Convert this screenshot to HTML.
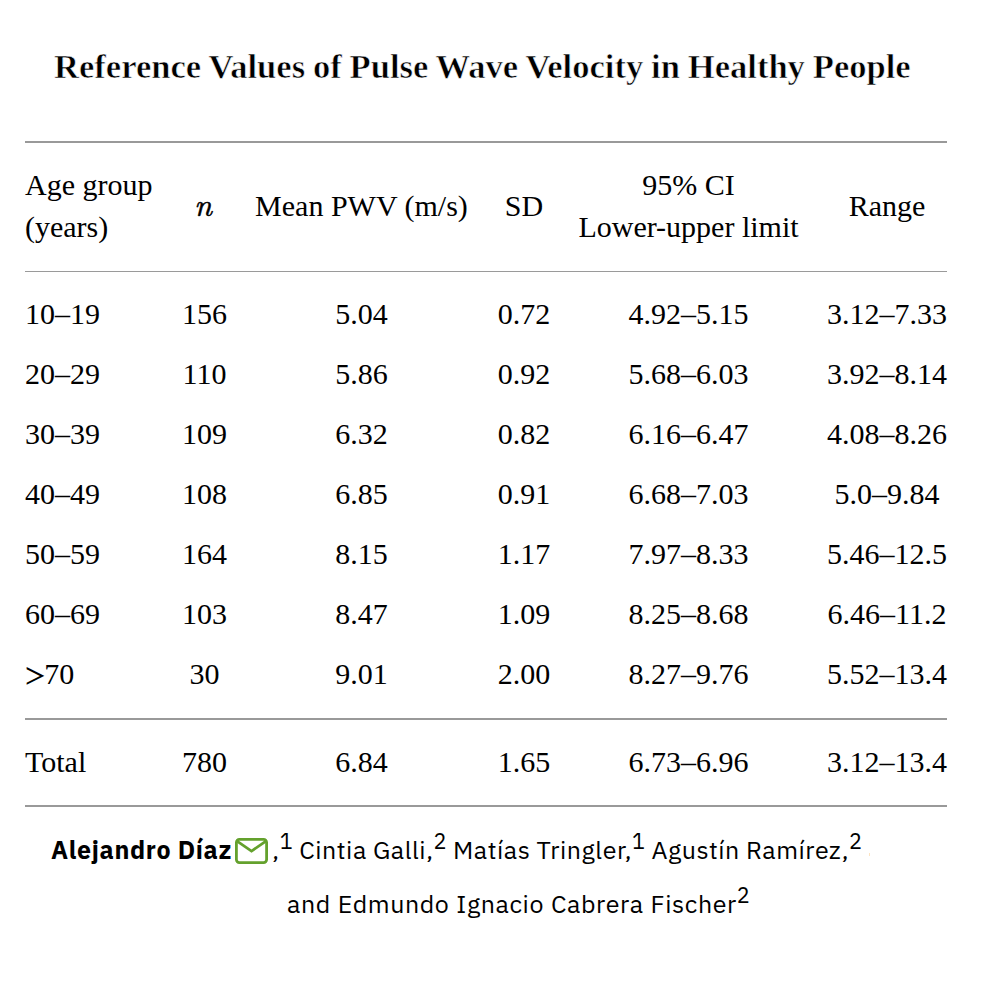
<!DOCTYPE html>
<html lang="en">
<head>
<meta charset="utf-8">
<title>Reference Values of Pulse Wave Velocity in Healthy People</title>
<style>
html,body{margin:0;padding:0;background:#fff;}
body{width:984px;height:984px;overflow:hidden;position:relative;color:#000;}
h1{position:absolute;left:54px;top:46px;margin:0;font:bold 34.6px/40px "Liberation Serif","Times New Roman",serif;letter-spacing:0px;word-spacing:-0.8px;-webkit-text-stroke:0.6px #fff;white-space:nowrap;}
table{position:absolute;left:25px;top:141px;width:922px;border-collapse:collapse;table-layout:fixed;
  font:30px/42px "Liberation Serif","Times New Roman",serif;}
td,th{padding:9px 0;text-align:center;vertical-align:middle;font-weight:normal;white-space:nowrap;}
td:first-child,th:first-child{text-align:left;}
thead tr{border-top:2px solid #999999;border-bottom:1px solid #9a9a9a;}
thead th{padding-top:21px;padding-bottom:23px;}
tbody tr:first-child td{padding-top:21px;}
tbody tr:last-child td{padding-bottom:23px;}
tfoot tr{border-top:2px solid #999999;border-bottom:2px solid #999999;}
tfoot td{padding-top:21px;padding-bottom:22px;}
.gt{font-family:"STIX Two Text","Liberation Serif",serif;margin-left:-0.6px;margin-right:-1.2px;line-height:0;}
i.n{font:italic 31.5px/42px "Latin Modern Roman","Liberation Serif",serif;-webkit-text-stroke:0.6px #000;position:relative;top:-2px;left:-1.5px;}
td:last-child,th:last-child{padding-left:4px;}
.authors{font:25px/32px "IBM Plex Sans","Liberation Sans",sans-serif;letter-spacing:0.55px;color:#000;}
.authors div{position:absolute;white-space:nowrap;word-spacing:-0.3px;}
.authors .l1{left:51px;top:834px;}
.authors .l2{left:287px;top:888px;word-spacing:0.5px;letter-spacing:0.58px;}
.authors b{font-weight:bold;color:#000;word-spacing:0;letter-spacing:0.65px;}
.authors sup{letter-spacing:0.3px;font-size:21.6px;line-height:0;vertical-align:0;position:relative;top:-10px;}
.env{vertical-align:-4.8px;margin-left:2.8px;margin-right:4.5px;}
</style>
</head>
<body>
<h1>Reference Values of Pulse Wave Velocity in Healthy People</h1>
<table>
<colgroup><col style="width:155px"><col style="width:49px"><col style="width:265px"><col style="width:60px"><col style="width:269px"><col style="width:124px"></colgroup>
<thead>
<tr><th>Age group<br>(years)</th><th><i class="n">n</i></th><th>Mean PWV (m/s)</th><th>SD</th><th>95% CI<br>Lower-upper limit</th><th>Range</th></tr>
</thead>
<tbody>
<tr><td>10–19</td><td>156</td><td>5.04</td><td>0.72</td><td>4.92–5.15</td><td>3.12–7.33</td></tr>
<tr><td>20–29</td><td>110</td><td>5.86</td><td>0.92</td><td>5.68–6.03</td><td>3.92–8.14</td></tr>
<tr><td>30–39</td><td>109</td><td>6.32</td><td>0.82</td><td>6.16–6.47</td><td>4.08–8.26</td></tr>
<tr><td>40–49</td><td>108</td><td>6.85</td><td>0.91</td><td>6.68–7.03</td><td>5.0–9.84</td></tr>
<tr><td>50–59</td><td>164</td><td>8.15</td><td>1.17</td><td>7.97–8.33</td><td>5.46–12.5</td></tr>
<tr><td>60–69</td><td>103</td><td>8.47</td><td>1.09</td><td>8.25–8.68</td><td>6.46–11.2</td></tr>
<tr><td><span class="gt">&gt;</span>70</td><td>30</td><td>9.01</td><td>2.00</td><td>8.27–9.76</td><td>5.52–13.4</td></tr>
</tbody>
<tfoot>
<tr><td>Total</td><td>780</td><td>6.84</td><td>1.65</td><td>6.73–6.96</td><td>3.12–13.4</td></tr>
</tfoot>
</table>
<div class="authors">
<div class="l1"><b>Alejandro Díaz</b><svg class="env" width="33" height="26" viewBox="0 0 33 26" aria-hidden="true"><rect x="1.4" y="1.4" width="30.2" height="23.2" rx="3" ry="3" fill="none" stroke="#64a12d" stroke-width="2.8"/><path d="M2.4 3.4 L16.5 13.1 L30.6 3.4" fill="none" stroke="#64a12d" stroke-width="2.7" stroke-linejoin="miter"/></svg>,<sup>1</sup> Cintia Galli,<sup>2</sup> Matías Tringler,<sup>1</sup> Agustín Ramírez,<sup>2</sup></div>
<div class="l2">and Edmundo Ignacio Cabrera Fischer<sup>2</sup></div>
</div>
<div style="position:absolute;left:869px;top:853px;width:1px;height:3px;background:#fde3c0;"></div>
</body>
</html>
